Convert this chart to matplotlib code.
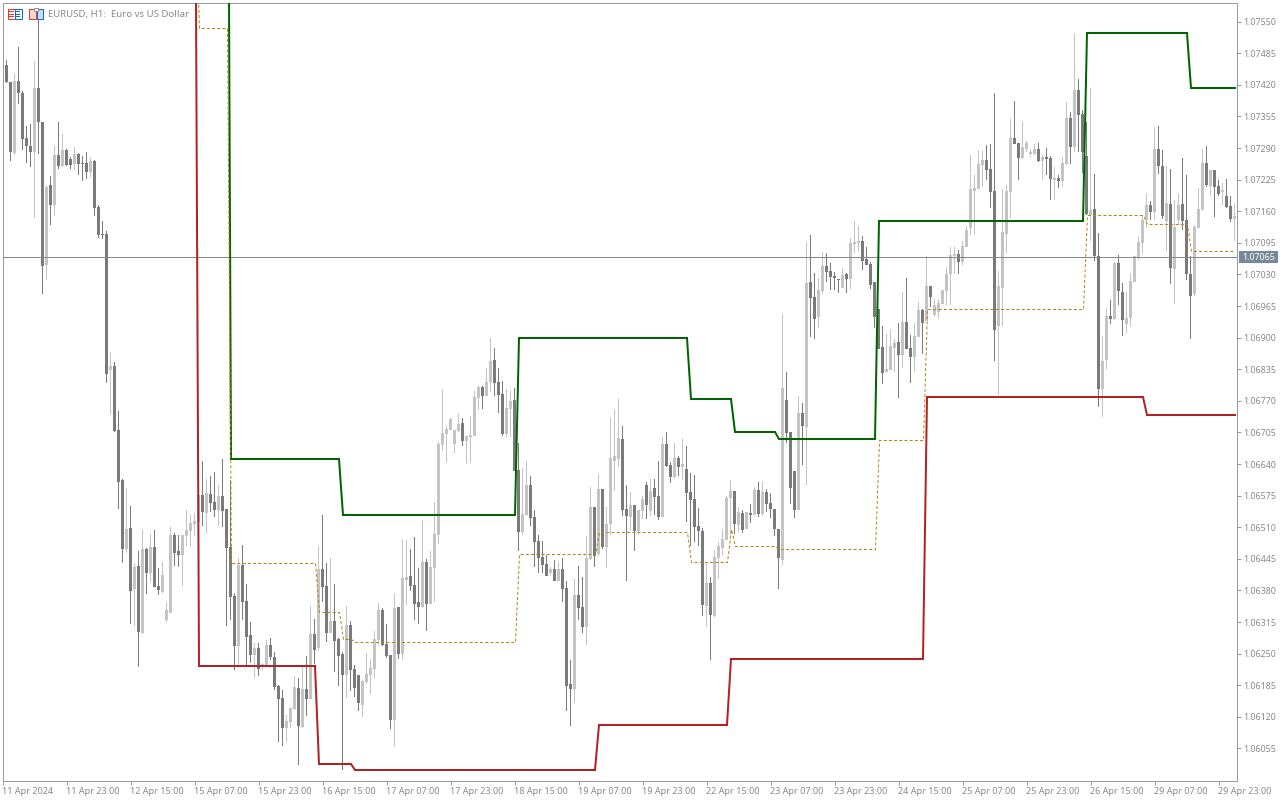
import numpy as np
import matplotlib
matplotlib.use("Agg")
import matplotlib.pyplot as plt
from matplotlib.patches import Rectangle
from matplotlib.transforms import Affine2D

BASE = 1.06
# all prices below are points above 1.06000

highs = [1461,1471,1426,1444,1498,1407,1335,1339,1469,1574,
1344,1214,1233,1296,1344,1319,1288,1272,1292,1280,
1274,1282,1272,1265,1173,1140,1119,870,850,749,
609,591,554,436,461,506,467,496,504,426,
438,356,511,498,494,494,546,535,539,576,
646,609,615,624,597,650,548,607,375,447,
474,393,315,272,272,231,278,282,253,186,
175,124,140,204,200,225,245,348,321,471,
535,436,447,393,282,253,348,317,227,206,
196,251,239,297,354,344,311,247,375,346,
486,484,465,490,426,525,445,461,562,685,
794,718,735,710,745,735,697,739,790,801,
801,838,899,879,838,811,794,790,797,683,
632,646,615,545,494,482,453,428,443,439,
447,399,237,403,430,408,492,593,552,620,
589,552,735,753,774,718,597,583,556,545,
574,603,609,609,646,696,706,644,683,657,
692,677,622,618,550,509,437,408,463,480,
506,574,607,585,552,546,541,558,593,603,
605,589,580,547,506,949,829,706,626,780,
766,1097,1111,1033,1023,1076,1074,1054,1035,1021,
1043,1033,1105,1140,1130,1109,1087,1056,1015,959,
924,908,918,897,930,994,1023,905,930,973,
959,1068,1006,980,980,998,1045,1087,1087,1080,
1099,1130,1276,1235,1286,1284,1296,1298,1403,1037,
1206,1214,1350,1387,1300,1346,1305,1288,1298,1300,
1278,1290,1274,1251,1235,1272,1385,1364,1527,1432,
1368,1344,1414,1237,1115,903,961,977,1056,1070,
1012,994,1033,1068,1109,1152,1198,1181,1333,1335,
1286,1253,1247,1183,1195,1270,1235,1068,1132,1208,
1288,1294,1245,1245,1224,1218,1226,1191,1177]

lows = [1442,1424,1263,1276,1381,1286,1259,1251,1146,1278,
990,1019,1132,1150,1247,1251,1253,1247,1245,1235,
1222,1226,1230,1150,1105,1103,807,741,706,548,
436,457,311,307,223,290,373,397,387,371,
374,315,334,430,428,389,471,469,492,521,
513,498,541,531,513,511,307,319,216,225,
319,225,231,200,204,216,223,237,175,68,
60,68,97,134,21,97,122,157,229,255,
356,274,292,212,183,10,159,173,161,132,
120,188,167,200,268,266,241,95,58,239,
237,350,378,319,311,343,297,352,356,476,
667,642,710,663,707,677,640,642,698,751,
753,780,788,780,745,698,696,696,626,461,
494,533,513,428,416,416,410,410,399,399,
356,132,101,148,319,292,268,443,428,451,
465,426,494,585,634,533,399,504,461,494,
527,527,533,535,525,531,634,601,611,615,
607,521,471,480,471,327,305,237,325,404,
453,484,496,496,500,498,506,519,535,531,
533,541,529,492,383,432,683,558,529,545,
638,597,901,897,920,990,1015,998,998,992,
1002,992,1000,1074,1076,1039,1050,1000,920,877,
805,829,834,829,776,838,877,807,829,901,
866,934,963,943,938,969,967,967,1031,1031,
1049,1086,1111,1113,1206,1210,1224,1167,852,782,
924,1074,1146,1298,1224,1268,1282,1272,1276,1261,
1224,1235,1183,1183,1208,1210,1255,1257,1282,1282,
1238,1152,1099,1058,757,737,836,928,936,967,
903,910,922,1015,1060,1072,1126,1142,1142,1237,
1144,1078,1010,969,1132,1121,1019,897,986,1126,
1163,1210,1191,1148,1191,1173,1167,1138,1099]

opens = [1442,1461,1426,1280,1428,1403,1311,1294,1282,1414,
1344,1049,1214,1173,1276,1253,1286,1268,1257,1278,
1259,1259,1241,1263,1169,1113,1113,833,842,710,
607,465,508,383,430,293,465,416,469,389,
377,319,334,494,461,453,492,502,517,521,
576,539,578,562,546,574,548,469,369,266,
432,358,288,247,262,223,225,268,243,183,
159,97,109,136,179,99,177,157,290,262,
424,389,292,317,280,249,206,309,218,206,
144,192,206,218,278,340,270,247,113,346,
249,402,410,391,356,346,439,352,426,494,
679,702,710,681,708,724,687,696,698,776,
798,780,809,854,809,784,702,753,772,628,
500,535,597,531,482,449,434,416,424,399,
424,385,187,177,371,346,305,445,552,455,
589,469,517,646,650,692,548,531,556,502,
543,597,543,591,574,531,681,638,613,653,
634,630,583,568,513,502,348,395,327,447,
467,484,570,585,515,539,506,539,535,587,
537,583,560,547,506,443,772,706,626,545,
745,716,1015,984,942,996,1047,1037,1027,1020,
1002,1031,1021,1093,1095,1099,1062,1052,1015,959,
881,829,834,879,891,864,932,879,860,901,
957,934,1006,947,953,969,996,1031,1068,1072,
1056,1086,1126,1202,1206,1255,1265,1247,1202,924,
1002,1113,1200,1311,1300,1270,1288,1278,1278,1288,
1263,1272,1270,1224,1228,1222,1257,1352,1292,1409,
1360,1274,1152,1165,1068,794,854,945,938,1054,
994,928,940,1015,1064,1095,1142,1173,1159,1288,
1253,1140,1175,1041,1142,1175,1142,1031,990,1126,
1163,1259,1212,1245,1212,1200,1191,1171,1144]

closes = [1461,1426,1282,1428,1403,1309,1294,1282,1414,1344,
1047,1210,1173,1276,1253,1286,1255,1255,1278,1257,
1258,1241,1263,1167,1111,1112,825,842,708,603,
465,506,379,428,295,465,416,469,387,381,
412,340,494,457,453,494,504,519,523,576,
541,580,560,546,574,543,467,366,266,432,
356,284,247,262,218,229,268,243,181,157,
97,111,138,181,101,177,157,290,257,424,
387,292,317,276,245,206,309,216,179,148,
194,208,220,280,340,268,245,113,344,249,
406,408,389,352,346,439,352,428,496,681,
704,712,733,710,722,687,697,700,778,798,
780,809,852,807,782,702,755,770,626,500,
537,597,529,480,447,432,410,424,399,424,
383,183,177,371,344,305,447,552,451,589,
469,517,652,657,694,545,533,556,502,545,
568,556,585,572,531,681,636,613,653,634,
640,580,566,511,502,350,395,330,449,471,
486,570,585,517,541,504,541,535,587,537,
583,558,547,506,447,796,704,591,545,745,
718,1012,982,938,998,1047,1035,1025,1023,1019,
1029,1021,1095,1097,1099,1058,1050,1008,942,877,
827,836,883,889,864,932,877,860,903,957,
930,1006,984,967,971,998,1031,1070,1072,1056,
1089,1121,1206,1208,1257,1265,1245,1200,916,1006,
1117,1202,1311,1298,1270,1292,1300,1282,1288,1263,
1272,1268,1226,1228,1222,1259,1352,1292,1409,1358,
1282,1154,1163,1068,794,852,945,938,1054,996,
936,940,1017,1068,1097,1142,1173,1159,1288,1253,
1150,1177,1043,1127,1173,1140,1031,986,1128,1165,
1259,1214,1245,1210,1195,1204,1169,1144,1150]

# indicator bands: bar number where the level changes, level there
upper_bars = [56,57,84,85,128,129,171,172,182,183,193,194,218,219,270,271,296,297,308]
upper_vals = [2849,650,650,535,535,899,899,774,774,707,707,692,692,1140,1140,1527,1527,1414,1414]
lower_bars = [48,49,78,79,87,88,148,149,181,182,230,231,285,286,308]
lower_vals = [2479,225,225,23,23,11,11,103,103,239,239,778,778,740,740]
mid_bars = [48,49,56,57,78,79,84,85,87,88,128,129,148,149,171,172,181,182,183,193,194,218,219,230,231,270,271,285,286,296,297,308]
mid_vals = [2623,1537,1537,436,436,335,335,280,280,274,274,454,454,500,500,438,438,506,471,471,465,465,689,689,958,958,1152,1152,1133,1133,1078,1078]

bid = 1.07065
price_ticks = [1.07550,1.07485,1.07420,1.07355,1.07290,1.07225,1.07160,1.07095,1.07030,
               1.06965,1.06900,1.06835,1.06770,1.06705,1.06640,1.06575,1.06510,1.06445,
               1.06380,1.06315,1.06250,1.06185,1.06120,1.06055]
time_labels = ["11 Apr 2024","11 Apr 23:00","12 Apr 15:00","15 Apr 07:00","15 Apr 23:00",
               "16 Apr 15:00","17 Apr 07:00","17 Apr 23:00","18 Apr 15:00","19 Apr 07:00",
               "19 Apr 23:00","22 Apr 15:00","23 Apr 07:00","23 Apr 23:00","24 Apr 15:00",
               "25 Apr 07:00","25 Apr 23:00","26 Apr 15:00","29 Apr 07:00","29 Apr 23:00"]

plt.rcParams['font.family'] = ['Noto Sans', 'DejaVu Sans']
TXT = '#8a8a8a'
EDGE = '#9a9aa0'
DARK = '#7a7a7a'
LIGHT = '#c4c4c4'
PX = 72 / 100

fig = plt.figure(figsize=(12.8, 8), dpi=100)
ax = fig.add_axes([2.5 / 1280, 1 - 780.5 / 800, 1234 / 1280, 778 / 800])

o = BASE + np.array(opens) / 1e5
h = BASE + np.array(highs) / 1e5
l = BASE + np.array(lows) / 1e5
c = BASE + np.array(closes) / 1e5
bars = np.arange(len(o))
up = c > o

# wicks and bodies as bars so they land on whole pixels: one bar step is 4 px
for mask, col in ((up, LIGHT), (~up, DARK)):
    ax.bar(bars[mask], h[mask] - l[mask], 0.25, l[mask], color=col, linewidth=0, antialiased=False, zorder=2)
    bottom = np.minimum(o[mask], c[mask])
    height = np.maximum(np.abs(c[mask] - o[mask]), 0.00001)
    ax.bar(bars[mask], height, 0.75, bottom, color=col, linewidth=0, antialiased=False, zorder=2)

ax.axhline(bid, color='#808890', linewidth=PX, zorder=3)

# snap keeps the flat runs on whole pixels
ax.plot(upper_bars, BASE + np.array(upper_vals) / 1e5, color='#006400', linewidth=2 * PX,
        solid_joinstyle='miter', snap=True, zorder=4)
ax.plot(lower_bars, BASE + np.array(lower_vals) / 1e5, color='#b22222', linewidth=2 * PX,
        solid_joinstyle='miter', snap=True, zorder=4)
ax.plot(mid_bars, BASE + np.array(mid_vals) / 1e5, color='#b8860b', linewidth=PX,
        linestyle=(0, (3, 2.2)), dash_capstyle='butt', snap=True, zorder=5)

ax.set_xlim(0, 308.5)
ax.set_ylim(BASE - 10.9 / 1e5, BASE + 1589.5 / 1e5)

ax.yaxis.tick_right()
ax.set_yticks(price_ticks)
ax.set_yticklabels(["%.5f" % p for p in price_ticks])
ax.set_xticks(bars[::16])
ax.set_xticklabels(time_labels, ha='left')
ax.tick_params(axis='y', length=4 * PX, width=PX, color=EDGE, labelcolor=TXT, labelsize=6.4, pad=2)
ax.tick_params(axis='x', length=4 * PX, width=PX, color=EDGE, labelcolor=TXT, labelsize=6.5, pad=1.5)
for s in ax.spines.values():
    s.set_color(EDGE)
    s.set_linewidth(PX)

# header and price tag are screen furniture, placed in pixels from the top left
screen = Affine2D().scale(1, -1).translate(0, 800)
fig.text(48 / 1280, 1 - 14 / 800, "EURUSD, H1:  Euro vs US Dollar", color=TXT, fontsize=6.95, va='center')

fig.add_artist(Rectangle((1239, 251), 39, 12, transform=screen, facecolor='#778899', edgecolor='none'))
fig.text(1242 / 1280, 1 - 257.3 / 800, "%.5f" % bid, color='white', fontsize=6.4, va='center', zorder=5)

# the two little toolbar icons
for x0, x1, col, fill in ((7.5, 14.5, '#e03c31', 'white'), (14.5, 21.5, '#0a6ebd', 'white'),
                          (28.5, 35.5, '#e03c31', '#fbd5cf'), (36.5, 42.5, '#0a6ebd', '#bfe0f5')):
    fig.add_artist(Rectangle((x0, 8.5), x1 - x0, 10, transform=screen, facecolor=fill,
                             edgecolor=col, linewidth=PX))
for x0, x1, col in ((9, 14, '#e03c31'), (16, 20, '#0a6ebd')):
    for y0 in (11, 13.5, 16):
        fig.add_artist(Rectangle((x0, y0), x1 - x0, 1, transform=screen, facecolor=col, edgecolor='none'))
fig.add_artist(Rectangle((33.5, 7.5), 4.5, 3, transform=screen, facecolor='white', edgecolor='#8e8e8e', linewidth=PX))

fig.savefig('out.png', dpi=100)
